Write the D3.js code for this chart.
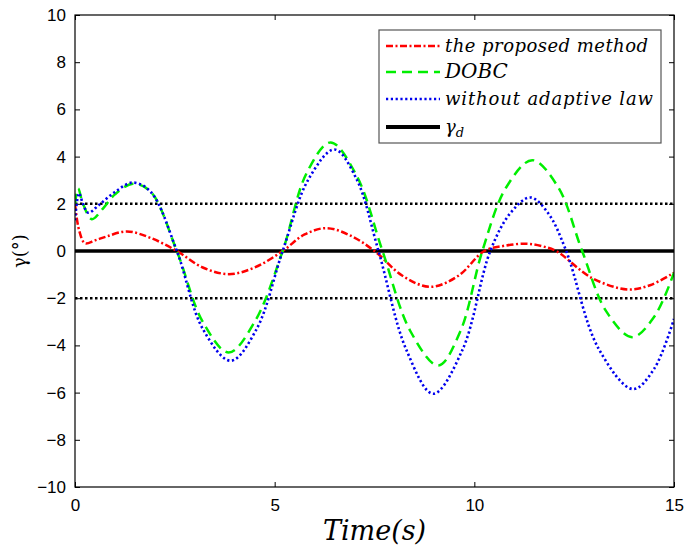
<!DOCTYPE html>
<html>
<head>
<meta charset="utf-8">
<script src="https://cdn.jsdelivr.net/npm/d3@7"></script>
<style>
  body { margin: 0; background: #fff; }
  svg { display: block; }
</style>
</head>
<body>
<svg id="chart" width="685" height="547"></svg>
<script>
// values: [time (s), gamma (deg)]
const proposed = [
  [0, 2.0], [0.1, 0.9], [0.25, 0.33], [0.5, 0.45], [0.8, 0.62], [1.3, 0.83],
  [1.9, 0.55], [2.55, 0], [3.2, -0.7], [3.85, -0.98], [4.5, -0.7], [5.2, 0],
  [5.75, 0.7], [6.3, 0.97], [6.9, 0.65], [7.5, 0], [8.2, -1.05], [8.9, -1.52],
  [9.6, -1.05], [10.25, 0], [10.75, 0.22], [11.3, 0.31], [11.7, 0.2], [12.05, 0],
  [12.95, -1.15], [13.85, -1.63], [14.4, -1.45], [15, -0.92]
];
const dobc = [
  [0, 2.0], [0.08, 2.65], [0.2, 2.0], [0.42, 1.35], [0.7, 1.8], [1.0, 2.4],
  [1.45, 2.85], [1.9, 2.5], [2.55, 0], [3.2, -3.0], [3.85, -4.3], [4.5, -3.0],
  [5.2, 0], [5.8, 3.3], [6.4, 4.6], [7.05, 3.2], [7.7, 0], [8.4, -3.4],
  [9.1, -4.85], [9.65, -3.4], [10.2, 0], [10.8, 2.7], [11.45, 3.85], [12.1, 2.7],
  [12.7, 0], [13.3, -2.55], [13.95, -3.65], [14.5, -2.8], [15, -0.92]
];
const noAdaptive = [
  [0, 1.3], [0.1, 2.45], [0.2, 2.0], [0.33, 1.62], [0.6, 1.95], [1.0, 2.5],
  [1.45, 2.9], [1.9, 2.5], [2.55, 0], [3.2, -3.3], [3.9, -4.65], [4.55, -3.3],
  [5.2, 0], [5.85, 3.05], [6.5, 4.3], [7.05, 3.05], [7.6, 0], [8.3, -4.2],
  [8.97, -6.05], [9.7, -4.2], [10.4, 0], [10.9, 1.6], [11.4, 2.27], [11.85, 1.6],
  [12.3, 0], [13.1, -4.1], [13.97, -5.85], [14.5, -5.0], [15, -2.88]
];
const desired = [[0, 0], [15, 0]];
const boundUpper = [[0, 2], [15, 2]];
const boundLower = [[0, -2], [15, -2]];

const xTicks = [0, 5, 10, 15];
const yTicks = [-10, -8, -6, -4, -2, 0, 2, 4, 6, 8, 10];
const legendLabels = ["the proposed method", "DOBC", "without adaptive law"];
const legendWidths = [203, null, 208];

const serif = "DejaVu Serif, serif";

const margin = { top: 15, right: 11, bottom: 60, left: 75 };
const width = 685 - margin.left - margin.right;
const height = 547 - margin.top - margin.bottom;

const svg = d3.select("#chart");
const g = svg.append("g").attr("transform", `translate(${margin.left},${margin.top})`);

const xScale = d3.scaleLinear().domain([0, 15]).range([0, width]);
const yScale = d3.scaleLinear().domain([-10, 10]).range([height, 0]);

svg.append("defs").append("clipPath").attr("id", "plotClip")
  .append("rect").attr("width", width).attr("height", height);

const fmt = (d) => (d < 0 ? "\u2212" + Math.abs(d) : String(d));

// axes: ticks pointing inward, labels outside
const xAxis = g.append("g").attr("transform", `translate(0,${height})`)
  .call(d3.axisBottom(xScale).tickValues(xTicks).tickSize(-5).tickPadding(12).tickFormat(fmt));
const xAxisTop = g.append("g")
  .call(d3.axisTop(xScale).tickValues(xTicks).tickSize(-5).tickFormat(""));
const yAxis = g.append("g")
  .call(d3.axisLeft(yScale).tickValues(yTicks).tickSize(-5).tickPadding(9).tickFormat(fmt));
const yAxisRight = g.append("g").attr("transform", `translate(${width},0)`)
  .call(d3.axisRight(yScale).tickValues(yTicks).tickSize(-5).tickFormat(""));

[xAxis, xAxisTop, yAxis, yAxisRight].forEach((ax) => {
  ax.select(".domain").remove();
  ax.selectAll("line").attr("stroke", "#000").attr("stroke-width", 1);
  ax.selectAll("text")
    .attr("font-family", "Liberation Sans, Arial, sans-serif")
    .attr("font-size", 17)
    .attr("fill", "#000");
});

const plot = g.append("g").attr("clip-path", "url(#plotClip)");

const line = d3.line()
  .x((d) => xScale(d[0]))
  .y((d) => yScale(d[1]));
const smooth = d3.line()
  .x((d) => xScale(d[0]))
  .y((d) => yScale(d[1]))
  .curve(d3.curveCatmullRom.alpha(0.5));

const styles = [
  { data: proposed, color: "#ff0000", dash: "7,2.5,2,2.5", w: 2.5 },
  { data: dobc, color: "#00ee00", dash: "10,6", w: 2.5 },
  { data: noAdaptive, color: "#0000ee", dash: "2.2,2.6", w: 2.6 }
];

plot.append("path").datum(boundUpper).attr("d", line)
  .attr("fill", "none").attr("stroke", "#000").attr("stroke-width", 2.5)
  .attr("stroke-dasharray", "2.5,2.5");
plot.append("path").datum(boundLower).attr("d", line)
  .attr("fill", "none").attr("stroke", "#000").attr("stroke-width", 2.5)
  .attr("stroke-dasharray", "2.5,2.5");
plot.append("path").datum(desired).attr("d", line)
  .attr("fill", "none").attr("stroke", "#000").attr("stroke-width", 3.5);

styles.forEach((s) => {
  plot.append("path").datum(s.data).attr("d", smooth)
    .attr("fill", "none").attr("stroke", s.color)
    .attr("stroke-width", s.w).attr("stroke-dasharray", s.dash);
});

// plot frame
g.append("rect").attr("width", width).attr("height", height)
  .attr("fill", "none").attr("stroke", "#000").attr("stroke-width", 1.2);

// legend
const legend = g.append("g").attr("transform", `translate(${379 - margin.left},${30 - margin.top})`);
legend.append("rect").attr("width", 282).attr("height", 113)
  .attr("fill", "#fff").attr("stroke", "#555").attr("stroke-width", 1.2);

const rowY = [16, 42, 69, 97];
const legendItems = styles.map((s, i) => ({ ...s, label: legendLabels[i], tw: legendWidths[i] }));
legendItems.push({ color: "#000", dash: null, w: 4, label: null });

legendItems.forEach((item, i) => {
  legend.append("line")
    .attr("x1", 7).attr("x2", 61).attr("y1", rowY[i]).attr("y2", rowY[i])
    .attr("stroke", item.color).attr("stroke-width", item.w)
    .attr("stroke-dasharray", item.dash);
  const t = legend.append("text")
    .attr("x", 66).attr("y", rowY[i] + 6)
    .attr("font-family", serif)
    .attr("font-style", "italic")
    .attr("font-size", 18)
    .attr("fill", "#000");
  if (item.label) {
    t.text(item.label);
    if (item.tw) t.attr("textLength", item.tw).attr("lengthAdjust", "spacing");
    else t.attr("font-size", 20);
  } else {
    t.text("\u03b3");
    t.append("tspan").attr("font-size", 13).attr("dy", 4).text("d");
  }
});

// axis titles
svg.append("text")
  .attr("x", margin.left + width / 2).attr("y", 540)
  .attr("text-anchor", "middle")
  .attr("font-family", serif)
  .attr("font-style", "italic")
  .attr("font-size", 27)
  .text("Time(s)");

svg.append("text")
  .attr("transform", `translate(26,${margin.top + yScale(0)}) rotate(-90)`)
  .attr("text-anchor", "middle")
  .attr("font-family", serif)
  .attr("font-size", 18)
  .text("\u03b3(\u00b0)");
</script>
</body>
</html>
